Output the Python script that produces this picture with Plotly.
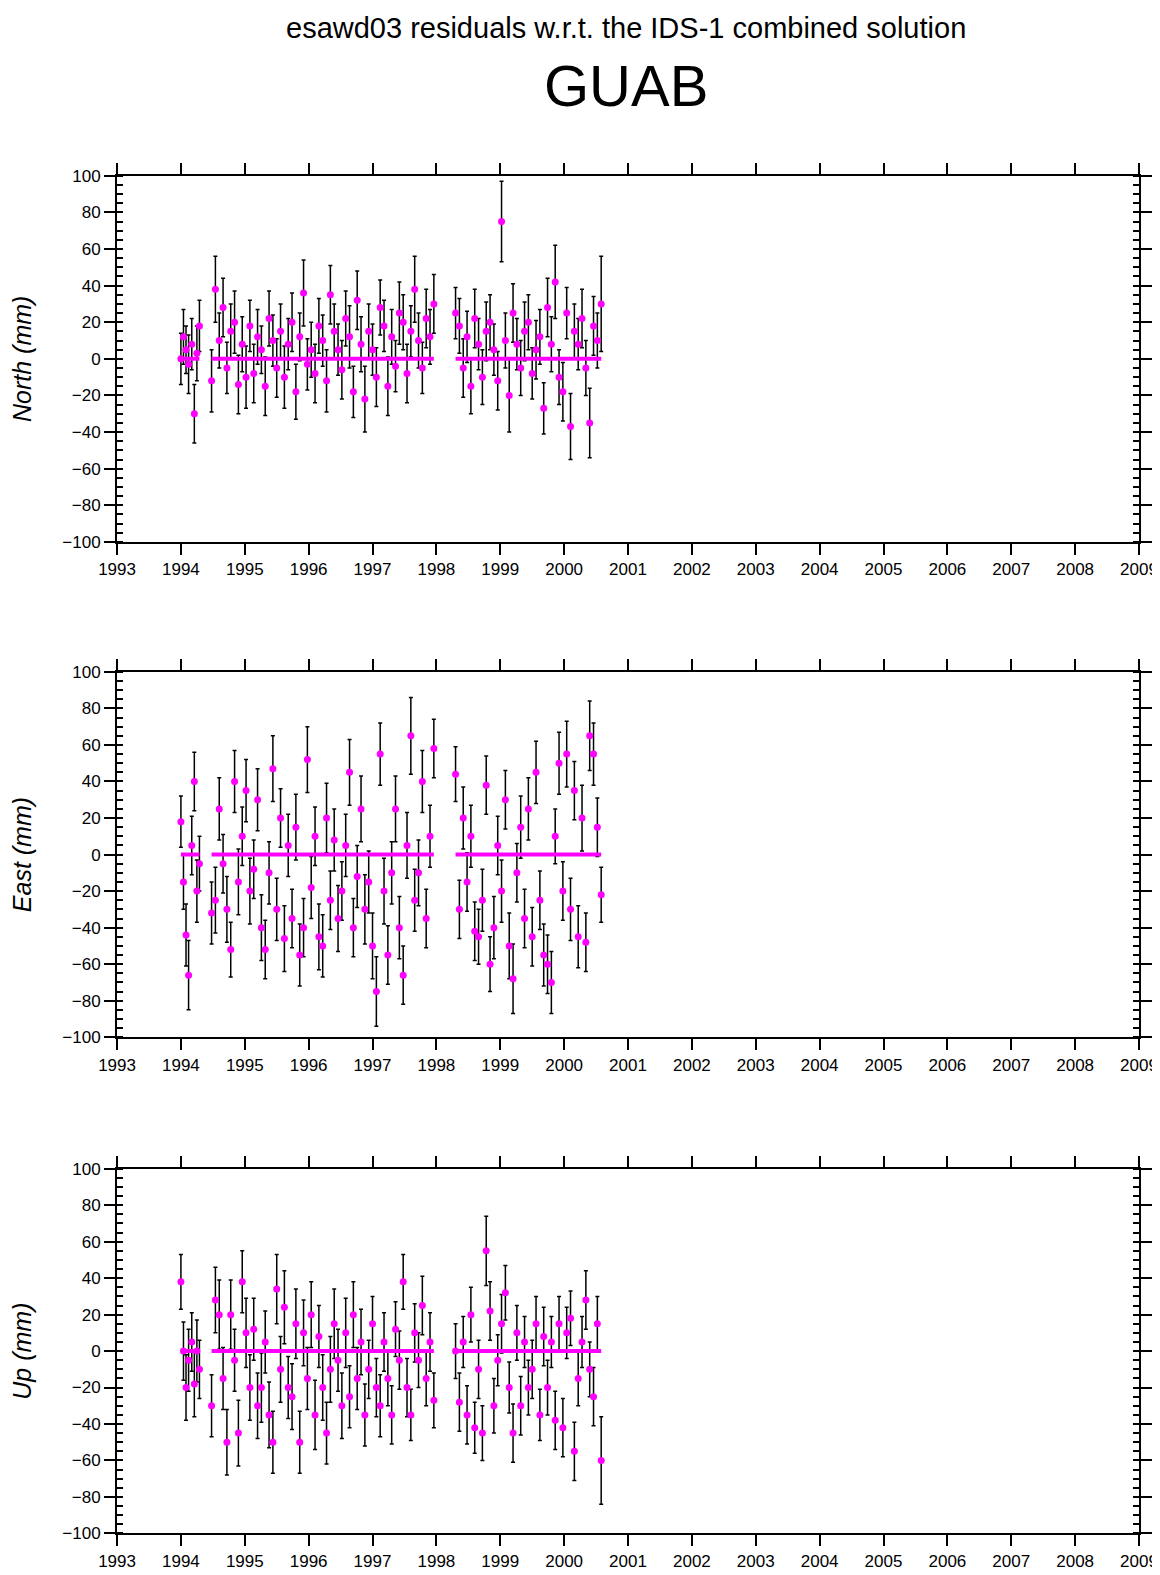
import plotly.graph_objects as go

# epochs (decimal years), shared by the three components
t_seg1 = [1994.00, 1994.04, 1994.08, 1994.12, 1994.17, 1994.21, 1994.25, 1994.29]
t_seg2 = [1994.48, 1994.54, 1994.60, 1994.66, 1994.72, 1994.78, 1994.84, 1994.90, 1994.96,
          1995.02, 1995.08, 1995.14, 1995.20, 1995.26, 1995.32, 1995.38, 1995.44, 1995.50,
          1995.56, 1995.62, 1995.68, 1995.74, 1995.80, 1995.86, 1995.92, 1995.98, 1996.04,
          1996.10, 1996.16, 1996.22, 1996.28, 1996.34, 1996.40, 1996.46, 1996.52, 1996.58,
          1996.64, 1996.70, 1996.76, 1996.82, 1996.88, 1996.94, 1997.00, 1997.06, 1997.12,
          1997.18, 1997.24, 1997.30, 1997.36, 1997.42, 1997.48, 1997.54, 1997.60, 1997.66,
          1997.72, 1997.78, 1997.84, 1997.90, 1997.96]
t_seg3 = [1998.30, 1998.36, 1998.42, 1998.48, 1998.54, 1998.60, 1998.66, 1998.72, 1998.78,
          1998.84, 1998.90, 1998.96, 1999.02, 1999.08, 1999.14, 1999.20, 1999.26, 1999.32,
          1999.38, 1999.44, 1999.50, 1999.56, 1999.62, 1999.68, 1999.74, 1999.80, 1999.86,
          1999.92, 1999.98, 2000.04, 2000.10, 2000.16, 2000.22, 2000.28, 2000.34, 2000.40,
          2000.46, 2000.52, 2000.58]
epochs = t_seg1 + t_seg2 + t_seg3

# reference (zero) line segments
ref_x = [1994.00, 1994.29, None, 1994.48, 1997.96, None, 1998.30, 2000.58]
ref_y = [0, 0, None, 0, 0, None, 0, 0]

north = [0, 12, 5, -3, 8, -30, 3, 18,
         -12, 38, 10, 28, -5, 15, 20, -14, 8, -10, 18, -8, 12, 5, -15, 22, 10, -5, 15, -10,
         8, 20, -18, 12, 36, -3, 5, -8, 18, 10, -12, 35, 15, 5, -6, 22, 12, -18, 32, 8, -22,
         15, 5, -10, 28, 18, -15, 12, -4, 25, 20, -8, 15, 38, 10, -5, 22, 12, 30,
         25, 18, -5, 12, -15, 22, 8, -10, 15, 20, 5, -12, 75, 10, -20, 25, 8, -5, 15, 20, -8,
         5, 12, -27, 28, 8, 42, -10, -18, 25, -37, 15, 8, 22, -5, -35, 18, 10, 30]
north_err = [14, 15, 13, 16, 14, 16, 15, 14,
             17, 18, 15, 16, 14, 15, 17, 16, 15, 17, 14, 16, 15, 13, 16, 15, 14, 16, 15, 17,
             14, 16, 15, 13, 18, 14, 15, 16, 15, 14, 17, 16, 15, 14, 16, 15, 17, 14, 16, 15, 18,
             15, 14, 16, 15, 14, 16, 15, 14, 17, 15, 16, 14, 18, 15, 14, 16, 15, 16,
             14, 15, 16, 14, 15, 16, 14, 15, 16, 15, 14, 16, 22, 15, 20, 16, 14, 15, 16, 15, 14,
             16, 15, 14, 16, 15, 20, 15, 16, 14, 18, 15, 14, 16, 15, 19, 16, 15, 26]

east = [18, -15, -44, -66, 5, 40, -20, -5,
        -32, -25, 25, -5, -30, -52, 40, -15, 10, 35, -20, -8, 30, -40, -52, -10, 47, -30, 20,
        -46, 5, -35, 15, -55, -40, 52, -18, 10, -45, -50, 20, -25, 8, -35, -20, 5, 45, -40,
        -12, 25, -30, -15, -50, -75, 55, -20, -55, -10, 25, -40, -66, 5, 65, -25, -10, 40,
        -35, 10, 58,
        44, -30, 20, -15, 10, -42, -45, -25, 38, -60, -40, 5, -20, 30, -50, -68, -10, 15, -35,
        25, -45, 45, -25, -55, -60, -70, 10, 50, -20, 55, -30, 35, -45, 20, -48, 65, 55, 15, -22]
east_err = [14, 15, 17, 19, 16, 16, 17, 15,
            17, 18, 17, 16, 18, 15, 17, 18, 16, 17, 18, 16, 17, 18, 16, 17, 18, 17, 16, 18, 17,
            16, 18, 17, 16, 18, 17, 16, 18, 17, 19, 16, 17, 18, 16, 17, 18, 16, 17, 18, 19, 17,
            18, 19, 17, 18, 16, 17, 18, 17, 16, 18, 21, 17, 18, 17, 16, 17, 16,
            15, 16, 17, 16, 17, 16, 15, 17, 16, 15, 17, 16, 17, 16, 18, 19, 16, 17, 16, 17, 16,
            17, 16, 17, 16, 17, 15, 17, 16, 18, 17, 16, 17, 18, 16, 19, 17, 16, 15]

up = [38, 0, -20, -5, 5, -18, 0, -10,
      -30, 28, 20, -15, -50, 20, -5, -45, 38, 10, -20, 12, -30, -20, 5, -35, -50, 34, -10, 24,
      -20, -25, 15, -50, 10, -15, 20, -35, 8, -20, -45, -10, 15, -5, -30, 10, -25, 20, -15, 5,
      -35, -10, 15, -20, -30, 5, -15, -35, 12, -5, 38, -20, -35, 10, -5, 25, -15, 5, -27,
      0, -28, 5, -35, 20, -42, -10, -45, 55, 22, -30, -5, 15, 32, -20, -45, 10, -30, 5, -20,
      -10, 15, -35, 8, -20, 5, -38, 15, -42, 10, 18, -55, -15, 5, 28, -10, -25, 15, -60]
up_err = [15, 16, 18, 17, 16, 18, 17, 16,
          17, 18, 19, 17, 18, 19, 17, 18, 17, 19, 18, 17, 18, 19, 17, 18, 17, 19, 18, 20, 17,
          18, 19, 17, 18, 17, 18, 19, 17, 18, 17, 18, 19, 17, 18, 19, 17, 18, 17, 18, 17, 16,
          15, 16, 17, 16, 15, 16, 15, 16, 15, 16, 14, 16, 15, 16, 15, 16, 15,
          15, 16, 14, 16, 15, 14, 16, 15, 19, 16, 15, 14, 16, 15, 14, 16, 15, 16, 14, 15, 16,
          15, 14, 16, 15, 14, 16, 15, 16, 14, 15, 16, 15, 14, 16, 15, 16, 15, 24]

components = [("North (mm)", north, north_err), ("East (mm)", east, east_err), ("Up (mm)", up, up_err)]
y_domains = [(0.661, 0.8935), (0.3465, 0.5785), (0.0315, 0.263)]
FONT = "Liberation Sans, Arial, sans-serif"

fig = go.Figure()
for i, (label, vals, errs) in enumerate(components):
    n = i + 1
    xa, ya = ("x" if n == 1 else f"x{n}"), ("y" if n == 1 else f"y{n}")
    fig.add_trace(go.Scatter(
        x=epochs, y=vals, mode="markers", xaxis=xa, yaxis=ya,
        marker=dict(color="#ff00ff", size=7),
        error_y=dict(type="data", array=errs, color="black", thickness=1.5, width=2),
        showlegend=False))
    fig.add_trace(go.Scatter(
        x=ref_x, y=ref_y, mode="lines", xaxis=xa, yaxis=ya,
        line=dict(color="#ff00ff", width=4), showlegend=False))
    axis_common = dict(showline=True, linecolor="black", linewidth=2, mirror="allticks",
                       ticks="outside", ticklen=11, tickwidth=2, tickcolor="black",
                       showgrid=False, zeroline=False, automargin=False,
                       tickfont=dict(family=FONT, size=17, color="black"))
    fig.layout[f"xaxis{n if n > 1 else ''}"] = dict(
        axis_common, domain=[0.094, 0.975], range=[1993, 2009], dtick=1, tick0=1993,
        anchor=ya)
    fig.layout[f"yaxis{n if n > 1 else ''}"] = dict(
        axis_common, domain=list(y_domains[i]), range=[-100, 100], dtick=20,
        anchor=xa,
        minor=dict(dtick=5, ticks="inside", ticklen=6, tickwidth=2, tickcolor="black"),
        title=dict(text=f"<i>{label}</i>", standoff=30,
                   font=dict(family=FONT, size=25, color="black")))

fig.update_layout(
    width=1160, height=1575,
    margin=dict(l=0, r=0, t=0, b=0),
    plot_bgcolor="white", paper_bgcolor="white",
    annotations=[
        dict(text="esawd03 residuals w.r.t. the IDS-1 combined solution", x=0.533, y=0.999,
             xref="paper", yref="paper", xanchor="center", yanchor="top", showarrow=False,
             font=dict(family=FONT, size=29, color="black")),
        dict(text="GUAB", x=0.533, y=0.973, xref="paper", yref="paper",
             xanchor="center", yanchor="top", showarrow=False,
             font=dict(family=FONT, size=58, color="black")),
    ],
)

fig.write_html("out.html")
